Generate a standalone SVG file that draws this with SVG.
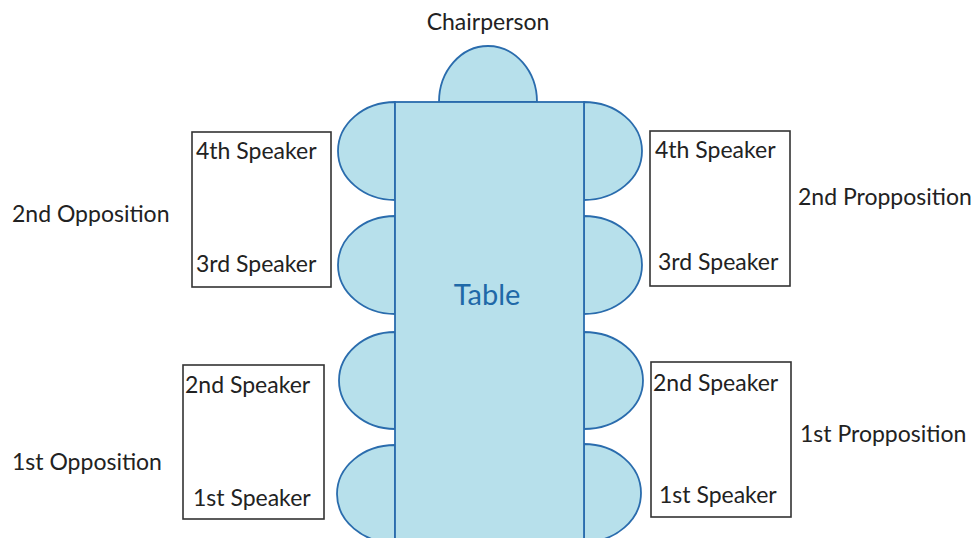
<svg xmlns="http://www.w3.org/2000/svg" width="973" height="538" viewBox="0 0 973 538">
  <style>
    .seat { fill: #b7e0eb; stroke: #2a6cad; stroke-width: 1.8; }
    .table { fill: #b7e0eb; stroke: #2a6cad; stroke-width: 1.8; }
    .box { fill: #ffffff; stroke: #333333; stroke-width: 1.6; }
    .lbl { font-family: Lato, "Open Sans", "Liberation Sans", sans-serif; font-size: 23px; fill: #222222; }
    .title { font-family: Lato, "Open Sans", "Liberation Sans", sans-serif; font-size: 29px; fill: #1f69a8; }
  </style>
  <rect width="973" height="538" fill="#ffffff"/>

  <!-- chairs (half ellipses) -->
  <g id="chair-head"><path class="seat" d="M439,102 A49,56 0 0 1 537,102 Z"/></g>
  <g id="seat-left-1"><path class="seat" d="M395,102 A57,49 0 0 0 395,200 Z"/></g>
  <g id="seat-left-2"><path class="seat" d="M395,216 A57,49 0 0 0 395,314 Z"/></g>
  <g id="seat-left-3"><path class="seat" d="M395,332 A56,48.5 0 0 0 395,429 Z"/></g>
  <g id="seat-left-4"><path class="seat" d="M395,445 A58,49 0 0 0 395,543 Z"/></g>
  <g id="seat-right-1"><path class="seat" d="M584,102 A58,49 0 0 1 584,200 Z"/></g>
  <g id="seat-right-2"><path class="seat" d="M584,216 A58,49 0 0 1 584,314 Z"/></g>
  <g id="seat-right-3"><path class="seat" d="M584,332 A59,48.5 0 0 1 584,429 Z"/></g>
  <g id="seat-right-4"><path class="seat" d="M584,444 A57,49 0 0 1 584,542 Z"/></g>

  <!-- table -->
  <g id="table">
    <rect class="table" x="395" y="102" width="189" height="445"/>
    <text class="title" x="487" y="305" text-anchor="middle">Table</text>
  </g>

  <g id="chairperson-label">
    <text class="lbl" x="488" y="30" text-anchor="middle">Chairperson</text>
  </g>

  <!-- team boxes -->
  <g id="opp-2">
    <rect class="box" x="192" y="132" width="139" height="155"/>
    <text class="lbl" x="196" y="159">4th Speaker</text>
    <text class="lbl" x="196" y="272">3rd Speaker</text>
  </g>
  <g id="prop-2">
    <rect class="box" x="650" y="131" width="140" height="155"/>
    <text class="lbl" x="655" y="158">4th Speaker</text>
    <text class="lbl" x="658" y="270">3rd Speaker</text>
  </g>
  <g id="opp-1">
    <rect class="box" x="183" y="365" width="141" height="154"/>
    <text class="lbl" x="185" y="393">2nd Speaker</text>
    <text class="lbl" x="193" y="506">1st Speaker</text>
  </g>
  <g id="prop-1">
    <rect class="box" x="651" y="362" width="140" height="155"/>
    <text class="lbl" x="653" y="391">2nd Speaker</text>
    <text class="lbl" x="659" y="503">1st Speaker</text>
  </g>

  <!-- team names -->
  <g id="team-labels">
    <text class="lbl" x="12" y="222">2nd Opposition</text>
    <text class="lbl" x="798" y="205">2nd Propposition</text>
    <text class="lbl" x="12" y="470">1st Opposition</text>
    <text class="lbl" x="800" y="442">1st Propposition</text>
  </g>
</svg>
